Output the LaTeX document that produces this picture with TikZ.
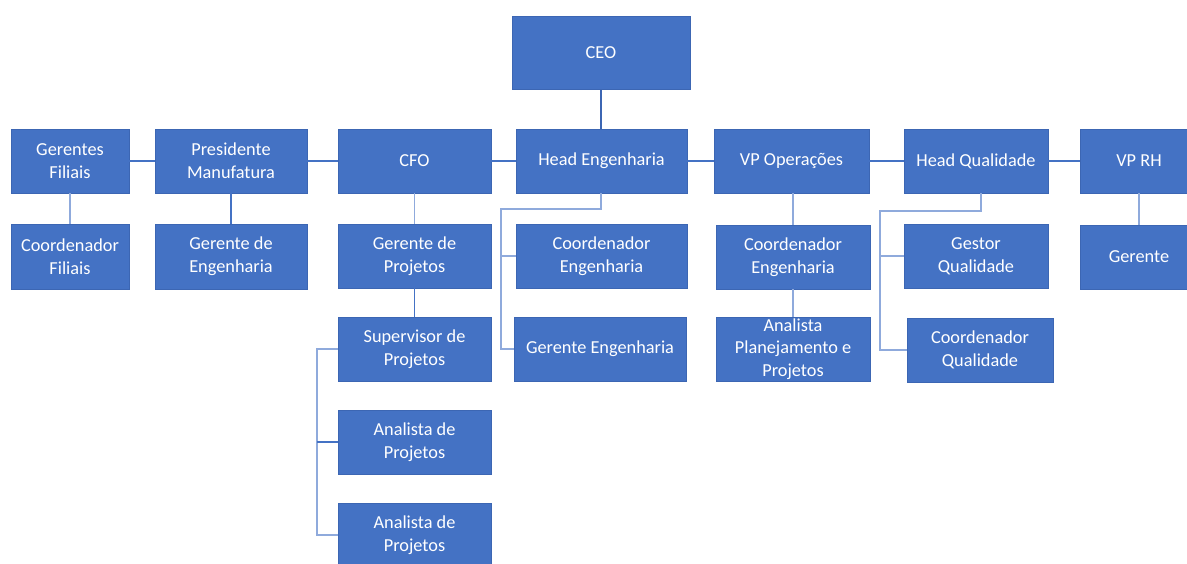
\documentclass[tikz,border=0pt]{standalone}
\usepackage{fontspec}
\setmainfont{Carlito}
\definecolor{boxfill}{HTML}{4472C4}
\definecolor{boxedge}{HTML}{3C66B3}
\definecolor{linkdark}{HTML}{4472C4}
\definecolor{linklight}{HTML}{8FAADC}
\tikzset{
  orgbox/.style={rectangle, fill=boxfill, draw=boxedge, line width=0.8pt,
    text=white, align=center, inner sep=0pt,
    font=\fontsize{18.3}{22.7}\selectfont},
  linkd/.style={draw=linkdark, line width=1.2pt},
  linkl/.style={draw=linklight, line width=1.2pt},
}
\begin{document}
\begin{tikzpicture}[x=1pt,y=-1pt]
\useasboundingbox (0,0) rectangle (1187,563);
\fill[white] (0,0) rectangle (1187,563);

% top
\node[orgbox, minimum width=178, minimum height=73] (ceo) at (601,52.5) {CEO};

% first level
\node[orgbox, minimum width=118, minimum height=64] (gf)   at (70,161)    {Gerentes\\Filiais};
\node[orgbox, minimum width=152, minimum height=64] (pm)   at (231,161)   {Presidente\\Manufatura};
\node[orgbox, minimum width=153, minimum height=64] (cfo)  at (414.5,161) {CFO};
\node[orgbox, minimum width=171, minimum height=64] (he)   at (601.5,161) {Head Engenharia};
\node[orgbox, minimum width=155, minimum height=64] (vpo)  at (791.5,161) {VP Operações};
\node[orgbox, minimum width=144, minimum height=64] (hq)   at (976,161)   {Head Qualidade};
\node[orgbox, minimum width=118, minimum height=64] (vprh) at (1139,161)  {VP RH};

% second level
\node[orgbox, minimum width=118, minimum height=65] (cf)  at (70,256.5)    {Coordenador\\Filiais};
\node[orgbox, minimum width=152, minimum height=65] (ge)  at (231,256.5)   {Gerente de\\Engenharia};
\node[orgbox, minimum width=153, minimum height=64] (gp)  at (414.5,256)   {Gerente de\\Projetos};
\node[orgbox, minimum width=171, minimum height=64] (ce)  at (601.5,256)   {Coordenador\\Engenharia};
\node[orgbox, minimum width=154, minimum height=64] (ce2) at (793,257)     {Coordenador\\Engenharia};
\node[orgbox, minimum width=144, minimum height=64] (gq)  at (976,256)     {Gestor\\Qualidade};
\node[orgbox, minimum width=118, minimum height=64] (ger) at (1139,257)    {Gerente};

% third level
\node[orgbox, minimum width=153, minimum height=64] (sp)  at (414.5,349) {Supervisor de\\Projetos};
\node[orgbox, minimum width=172, minimum height=64] (gen) at (600,349)   {Gerente Engenharia};
\node[orgbox, minimum width=154, minimum height=64] (apl) at (793,349)   {Analista\\Planejamento e\\Projetos};
\node[orgbox, minimum width=146, minimum height=64] (cq)  at (980,350)   {Coordenador\\Qualidade};

% analysts
\node[orgbox, minimum width=153, minimum height=64] (ap1) at (414.5,442) {Analista de\\Projetos};
\node[orgbox, minimum width=153, minimum height=64] (ap2) at (414.5,535) {Analista de\\Projetos};

% bus points of the side brackets
\coordinate (spbus) at (317,349);
\coordinate (hedrop) at (601,209);
\coordinate (hebus) at (501,209);
\coordinate (hqdrop) at (981,211);
\coordinate (hqbus) at (880,211);

% CEO link
\draw[draw=boxedge, line width=1.2pt] (ceo.south) -- (ceo.south |- he.north);

% chain of the first level
\draw[linkd] (gf.east) -- (pm.west);
\draw[linkd] (pm.east) -- (cfo.west);
\draw[linkd] (cfo.east) -- (he.west);
\draw[linkd] (he.east) -- (vpo.west);
\draw[linkd] (vpo.east) -- (hq.west);
\draw[linkd] (hq.east) -- (vprh.west);

% vertical links
\draw[linkl] (gf.south) -- (cf.north);
\draw[linkd] (pm.south) -- (ge.north);
\draw[linkl] (cfo.south) -- (gp.north);
\draw[linkd] (gp.south) -- (sp.north);
\draw[linkl] (ce2.north |- vpo.south) -- (ce2.north);
\draw[linkl] (ce2.south) -- (apl.north);
\draw[linkl] (vprh.south) -- (ger.north);

% supervisor bracket
\draw[linkl] (sp.west) -- (spbus) |- (ap2.west);
\draw[linkd] (spbus |- ap1.west) -- (ap1.west);

% head engenharia bracket
\draw[linkl] (he.south -| hedrop) -- (hedrop) -- (hebus) |- (gen.west);
\draw[linkl] (hebus |- ce.west) -- (ce.west);

% head qualidade bracket
\draw[linkl] (hq.south -| hqdrop) -- (hqdrop) -- (hqbus) |- (cq.west);
\draw[linkl] (hqbus |- gq.west) -- (gq.west);
\end{tikzpicture}
\end{document}
